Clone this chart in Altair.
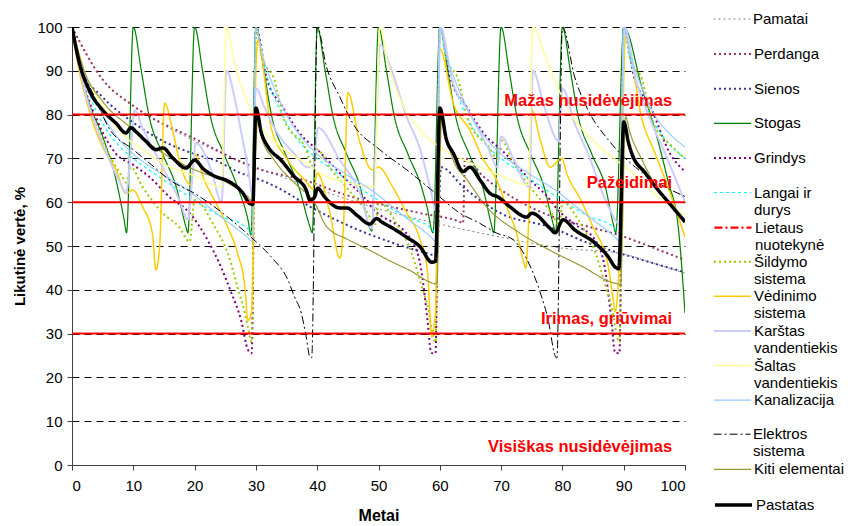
import altair as alt
import pandas as pd

# ---------------- data ----------------
series_names = [
    "Pamatai", "Perdanga", "Sienos", "Stogas", "Grindys",
    "Langai ir|durys", "Lietaus|nuotekynė", "Šildymo|sistema",
    "Vėdinimo|sistema", "Karštas|vandentiekis", "Šaltas|vandentiekis",
    "Kanalizacija", "Elektros|sistema", "Kiti elementai", "Pastatas",
]
series_colors = [
    "#808080", "#993366", "#333399", "#008000", "#800080",
    "#00FFFF", "#FF0000", "#99CC00", "#FFCC00", "#CCCCFF",
    "#FFFF99", "#99CCFF", "#000000", "#999933", "#000000",
]
series_dashes = [
    [2, 3], [2, 3], [2, 3], [1, 0], [2, 3],
    [3, 3], [8, 3, 2, 3], [2, 3], [1, 0], [1, 0],
    [1, 0], [1, 0], [8, 3, 2, 3], [1, 0], [1, 0],
]
series_widths = [1, 2, 2, 1.2, 2, 1.2, 2.2, 2, 1.5, 2, 1.5, 1.2, 1, 1.2, 3.5]

pamatai = [(0, 100), (5, 88), (10, 82), (20, 74), (30, 68), (40, 63), (50, 58.5), (60, 55),
           (70, 52), (80, 49.5), (89.2, 48.4), (95, 46), (100, 43.8)]

perdanga = [(0, 100), (5, 88), (10, 82), (20, 74.5), (30.6, 67.5), (38, 65), (45, 61.5), (52, 59),
            (56.8, 57.5), (63.3, 55.5), (63.8, 55.2), (64.1, 70), (67, 66), (72, 61), (78.8, 56.5),
            (84, 54.5), (89.2, 52.5), (95, 49.5), (100, 46.8)]

sienos = [(0, 100), (1.7, 90), (5, 84), (9.4, 78.8), (14.8, 74), (20, 71), (23.3, 69.6), (27.6, 66.6),
          (30, 65.5), (34, 63), (38.8, 59), (43, 56), (47, 53.5), (52.4, 50.7), (57.8, 48.4),
          (59.5, 47.8), (60.2, 68), (63.8, 63.5), (69.9, 57.5), (78, 54.3), (84.2, 50.7),
          (89, 48.5), (95, 46), (100, 44)]

stogas = [(0, 100), (1.3, 90), (2.8, 82.6), (5, 75), (7.2, 65), (8.5, 56), (8.9, 53),
          (10, 100), (11.3, 90), (12.6, 79.5), (14.8, 71), (17, 63.5), (18.6, 54.3), (18.9, 53),
          (20, 100), (21.3, 90), (22.6, 79.5), (24.8, 71), (27, 63.5), (28.7, 56), (29.2, 52.5),
          (30, 100), (31.3, 90), (32.6, 79.5), (34.8, 71), (37, 63.5), (38.8, 54.5), (39.2, 53),
          (40, 100), (41.3, 90), (42.6, 79.5), (44.8, 71), (47, 63.5), (48.6, 54), (48.9, 53.4),
          (50, 100), (51.3, 90), (52.6, 79.5), (54.8, 71), (57, 63.5), (57.9, 59), (58.9, 53),
          (60, 100), (61.3, 90), (62.6, 79.5), (64.8, 71), (67, 63.5), (68.4, 55), (68.8, 53),
          (70, 100), (71.3, 90), (72.6, 79.5), (74.8, 71), (77, 63.5), (78.5, 55), (78.9, 53),
          (80, 100), (81.3, 90), (82.6, 79.5), (84.8, 71), (87, 63.5), (88.3, 55), (88.7, 53),
          (90, 100), (93, 86), (95.1, 76.5), (97.2, 65), (98.9, 54.3), (100, 34.7)]

grindys = [(0, 100), (1.7, 88), (4, 79), (7.2, 71), (10, 68.5), (12.6, 65.8), (15.9, 61.2),
           (19.2, 57.5), (22.1, 51.4), (24.3, 45.2), (26, 39.3), (27.6, 33), (28.7, 26.3), (29.3, 25.5),
           (30, 100), (31.7, 88.6), (34.4, 81.7), (37.6, 75), (40, 72), (44.8, 65), (48, 60.5),
           (48.8, 59), (55.3, 51.4), (56.9, 45.2), (58, 33), (58.6, 25.6), (59.3, 25.5),
           (60, 100), (61.7, 88.6), (64.4, 81.7), (67.6, 75), (70, 72), (74.8, 65), (78, 60.5),
           (78.8, 59), (82, 55), (85.3, 51.4), (86.9, 45.2), (88, 33), (88.6, 25.6), (89.3, 25.5),
           (90, 100), (91.7, 88.6), (94.4, 81.7), (97.6, 71), (100, 67)]

langai = [(0, 100), (1, 93), (3, 84), (5, 78), (7.6, 73), (10, 70), (14, 66), (18.8, 61.5), (24, 57),
          (28.6, 54), (29.3, 53),
          (30, 100), (31, 93), (33, 84), (35, 78), (37.6, 73), (40, 70), (44, 66), (48.8, 61.5),
          (54, 57), (58.6, 54), (59.3, 53),
          (60, 100), (61, 93), (63, 84), (65, 78), (67.6, 73), (70, 70), (74, 66), (78.8, 61.5),
          (84, 57), (88.6, 54), (89.3, 53),
          (90, 100), (91, 93), (93, 84), (95, 78), (97.6, 73), (100, 70)]

kanalizacija = [(0, 100), (1, 94), (3, 86), (5, 80), (7.6, 74.5), (10, 71), (14, 67), (18.8, 62.8),
                (24, 57), (28.6, 52), (29.4, 51),
                (30, 100), (31, 94), (33, 86), (35, 80), (37.6, 74.5), (40, 71), (44, 67), (48.8, 62.8),
                (54, 57), (58.6, 52), (59.4, 51),
                (60, 100), (61, 94), (63, 86), (65, 80), (67.6, 74.5), (70, 71), (74, 67), (78.8, 62.8),
                (84, 57), (88.6, 52), (89.4, 51),
                (90, 100), (91, 94), (93, 86), (95, 80), (97.6, 75.5), (100, 72.6)]

# not visible in the picture: it runs hidden under the thick building line
lietaus = [(0, 100), (1.2, 91.8), (2.8, 85.6), (5, 81), (7.2, 78), (8.8, 75.8), (9.6, 77), (10.5, 76),
           (12, 74), (13.7, 72), (14.8, 72.4), (16.5, 70), (18.6, 67.8), (20, 69.6), (21.5, 67.5),
           (23.5, 65.8), (25.2, 65), (27.9, 62), (29, 59.7), (29.5, 59.5), (30, 81.5), (30.9, 75.8),
           (32, 72.6), (34.1, 69.6), (36.3, 65.8), (38.2, 62.8), (38.8, 60.5), (39.5, 61), (40.1, 63.2),
           (41.2, 61.2), (43.7, 58.7), (44.8, 58.7), (46.5, 57), (48.6, 55), (49.7, 56.3), (50.5, 55.5),
           (52.4, 54), (54.6, 52), (56.8, 49.8), (58.7, 46.3), (59.3, 46.5), (60, 81.5), (61.1, 74.2),
           (62.2, 71.2), (63.8, 67), (64.9, 68), (66.6, 65), (68.2, 62), (69.5, 61.2), (71.4, 59),
           (74.2, 56.6), (75, 57.5), (78, 54), (78.8, 53), (80.1, 56), (82, 53.7), (85.3, 50.7),
           (87.5, 47.5), (88.6, 45.2), (89.2, 44.8), (90, 78.3), (90.8, 73.5), (91.3, 71.2),
           (93.5, 66.7), (95.6, 62.8), (97.9, 59), (100, 55.5)]

sildymo = [(0, 100), (2, 86), (5, 74), (8.2, 65.8), (8.8, 64.5), (9.6, 68), (11.5, 63.5), (14.8, 57.5),
           (17.5, 54.3), (19.2, 51), (20, 60.5), (23.3, 54.3), (25.4, 48.4), (27, 40.6), (28.2, 34.7),
           (28.7, 31.5), (29.3, 28),
           (30, 100), (31, 93), (33, 88), (34.6, 78.8), (38, 72.6), (39.4, 68), (40, 72), (42, 68),
           (45, 63), (48, 58), (49.5, 55), (50, 60), (53, 55), (55.4, 48.4), (57, 41), (58.2, 35),
           (58.8, 30), (59.3, 28),
           (60, 100), (61, 93), (63, 88), (64.6, 78.8), (68, 72.6), (69.4, 70), (70, 74.2), (72, 69),
           (75, 63), (78, 58), (79.5, 55), (80, 60), (83, 55), (85.4, 48.4), (87, 41), (88.2, 35),
           (88.8, 30), (89.3, 28),
           (90, 100), (91, 93), (93, 88), (94.6, 78.8), (98, 72.6), (100, 70)]

vedinimo = [(0, 100), (0.3, 97), (2.8, 81), (5, 72.6), (7.2, 67.4), (8.8, 62), (9.9, 62.8), (11.5, 59),
            (13.1, 53), (13.7, 44.5), (14.3, 50), (15.1, 82.6), (16.4, 76.5), (17.5, 69.6), (18.6, 65),
            (19.4, 64), (20, 71), (21.6, 65), (23.8, 59), (25.4, 54.3), (27, 48.4), (28.2, 40.6),
            (28.7, 33), (29.3, 35),
            (30, 90), (30.3, 97), (32.5, 77), (35, 70), (38, 65), (39.4, 63), (40, 66.6), (42, 58),
            (43.7, 47.2), (44.3, 55), (45, 85), (46.9, 74), (49, 67.4), (50, 68), (52.3, 63.5),
            (54.6, 57.5), (56.8, 51.4), (58, 44), (58.7, 29.3), (59.3, 35),
            (60, 95), (62.2, 82.6), (64.9, 76.5), (67, 70), (69.3, 65), (70.9, 59), (72.5, 53),
            (73.6, 46.8), (74, 45), (74.6, 60), (75, 81), (76.4, 74.2), (78, 68), (79.9, 70),
            (80.7, 66.6), (83, 60.5), (85, 54.3), (87.5, 45.2), (88.3, 37.7), (88.6, 35), (89.4, 50),
            (90.3, 97.7), (93, 78.8), (95.1, 71.2), (97.2, 63.5), (100, 52)]

karstas = [(0, 100), (2, 86), (4, 77), (6, 70), (8.2, 63.5), (8.8, 62), (9.6, 72), (10.2, 81),
           (11.5, 77), (14.8, 68), (17.5, 60.5), (18.9, 56), (19.6, 65), (20.2, 73.5), (22.7, 67.4),
           (24.4, 60), (25.2, 90), (26.5, 84), (27.6, 76), (28.7, 68), (29.4, 62), (30, 86),
           (31.4, 81.7), (33, 77), (36.3, 71), (38.4, 68), (39.4, 68), (40.1, 77), (43.7, 69.6),
           (47, 62), (48.9, 54), (49.6, 75), (50.2, 96), (51.9, 91), (54.6, 79.5), (56.8, 72),
           (58.4, 63.5), (59.4, 58), (60.1, 100), (62, 88), (65, 80), (68, 72), (69.4, 68), (70, 75),
           (72, 70), (74.6, 63.5), (75.2, 90), (77, 82), (79.4, 74), (80, 86), (82, 78), (84.2, 71),
           (87.5, 59), (89.4, 55), (90.1, 100), (92, 88), (94, 80), (96.8, 71), (100, 60)]

saltas = [(0, 100), (2, 90), (5, 82), (8, 76), (12, 71.5), (16, 68), (20, 66), (24.4, 63.5),
          (25.2, 100), (26.5, 91.8), (28.7, 82.6), (30.9, 77), (34.1, 72.6), (38, 69), (41.3, 66),
          (45, 64.5), (49.4, 63.5),
          (50.2, 100), (51.5, 92), (53.7, 83), (56.8, 76.5), (60, 72.6), (65, 69), (70, 66),
          (74.4, 64),
          (75.2, 100), (77.4, 92.5), (81, 81), (84.9, 74.2), (88.8, 69.6), (92, 66), (95, 62),
          (100, 57)]

elektros = [(0, 100), (1.5, 91), (3.7, 84), (6, 77), (10, 72), (13, 68.5), (16, 65), (20, 62),
            (25.4, 56.6), (29.2, 52), (32.5, 47.5), (35.2, 42.3), (36.3, 38.4), (37.4, 34.7),
            (38.2, 29.3), (38.8, 24.7), (39.1, 24.5),
            (40, 100), (41.5, 91), (43.7, 84), (45.8, 78), (50.2, 72), (54.6, 67.4), (58.9, 62.5),
            (63.3, 57.5), (66.5, 55.2), (69.2, 53), (72, 51.4), (74.8, 45.2), (76.4, 39.3),
            (77.7, 33), (78.8, 25), (79.1, 24.4),
            (80, 100), (82, 88.6), (84.2, 81), (87.5, 74.2), (91.9, 68), (95.6, 64.4), (100, 61.3)]

kiti = [(0, 100), (2, 90), (5, 83), (9.4, 77.2), (14, 72), (20, 67.4), (25.4, 64.4), (28.7, 61.2),
        (29.5, 60), (30.3, 79), (30.9, 75), (33, 69.6), (36.3, 64.4), (39.6, 59.8), (41.5, 54.5),
        (45, 51.5), (48.6, 49), (52, 46.5), (55, 44.5), (58.9, 41.5), (59.5, 41.3), (60.3, 79),
        (61, 75), (62.2, 69.6), (64.5, 65), (67.6, 59), (73, 53), (78, 49), (83, 45.5), (88.6, 41.5),
        (89.5, 41.3), (90.3, 79.5), (91, 76), (93, 69.6), (96.8, 60.5), (100, 56)]

pastatas = [(0, 100), (1.2, 91.8), (2.8, 85.6), (5, 81), (7.2, 78), (8.8, 75.8), (9.6, 77), (10.5, 76),
            (12, 74), (13.7, 72), (14.8, 72.4), (16.5, 70), (18.6, 67.8), (20, 69.6), (21.5, 67.5),
            (23.5, 65.8), (25.2, 65), (27.9, 62), (29, 59.7), (29.5, 59.5), (30, 81.5), (30.9, 75.8),
            (32, 72.6), (34.1, 69.6), (36.3, 65.8), (38.2, 62.8), (38.8, 60.5), (39.5, 61), (40.1, 63.2),
            (41.2, 61.2), (43.7, 58.7), (44.8, 58.7), (46.5, 57), (48.6, 55), (49.7, 56.3), (50.5, 55.5),
            (52.4, 54), (54.6, 52), (56.8, 49.8), (58.7, 46.3), (59.3, 46.5), (60, 81.5), (61.1, 74.2),
            (62.2, 71.2), (63.8, 67), (64.9, 68), (66.6, 65), (68.2, 62), (69.5, 61.2), (71.4, 59),
            (74.2, 56.6), (75, 57.5), (78, 54), (78.8, 53), (80.1, 56), (82, 53.7), (85.3, 50.7),
            (87.5, 47.5), (88.6, 45.2), (89.2, 44.8), (90, 78.3), (90.8, 73.5), (91.3, 71.2),
            (93.5, 66.7), (95.6, 62.8), (97.9, 59), (100, 55.5)]

series_points = [pamatai, perdanga, sienos, stogas, grindys, langai, lietaus, sildymo,
                 vedinimo, karstas, saltas, kanalizacija, elektros, kiti, pastatas]

zone_levels = [80, 60, 30]
zone_texts = ["Mažas nusidėvėjimas", "Pažeidimai", "Irimas, griūvimai", "Visiškas nusidėvėjimas"]
zone_text_y = [83.1, 64.4, 33.3, 4.1]

axis_ticks = list(range(0, 101, 10))

FONT = "Liberation Sans"
LEGEND_STEP = 34.6

x_enc = alt.X("x:Q", scale=alt.Scale(domain=[0, 100], nice=False),
              axis=alt.Axis(title="Metai", values=axis_ticks, grid=False, tickSize=5,
                            labelFontSize=15, titleFontSize=16, titleFontWeight="bold",
                            labelPadding=8, titlePadding=14, domainColor="#404040",
                            tickColor="#404040", labelColor="black", titleColor="black"))
y_enc = alt.Y("y:Q", scale=alt.Scale(domain=[0, 100], nice=False),
              axis=alt.Axis(title="Likutinė vertė, %", values=axis_ticks, grid=True,
                            gridColor="black", gridDash=[7, 5], gridWidth=1, tickSize=5,
                            labelFontSize=15, titleFontSize=15, titleFontWeight="bold",
                            labelPadding=5, titlePadding=9, domainColor="#404040",
                            tickColor="#404040", labelColor="black", titleColor="black"))

layers = []
for i, (name, pts, col, dash, w) in enumerate(
        zip(series_names, series_points, series_colors, series_dashes, series_widths)):
    df = pd.DataFrame(pts, columns=["x", "y"])
    df["series"] = name
    leg = alt.Legend(title=None, orient="none", legendX=641, legendY=LEGEND_STEP * i - 27,
                     symbolType="stroke", symbolSize=1369, symbolStrokeColor=col,
                     symbolDash=dash, symbolStrokeWidth=w, symbolOpacity=1,
                     labelFontSize=15, labelFont=FONT, labelColor="black",
                     labelExpr="split(datum.label, '|')", labelLimit=300,
                     labelOffset=2, padding=0, labelBaseline="middle")
    layers.append(
        alt.Chart(df).mark_line(clip=True, interpolate="monotone", strokeDash=dash, strokeWidth=w).encode(
            x=x_enc if i == 0 else alt.X("x:Q"),
            y=y_enc if i == 0 else alt.Y("y:Q"),
            color=alt.Color("series:N", scale=alt.Scale(domain=[name], range=[col]), legend=leg),
        )
    )

rules_df = pd.DataFrame({"y": zone_levels, "x": [0] * len(zone_levels), "x2": [100] * len(zone_levels)})
text_df = pd.DataFrame({"text": zone_texts, "y": zone_text_y, "x": [97.9] * len(zone_texts)})

rules = alt.Chart(rules_df).mark_rule(color="#FF0000", strokeWidth=2).encode(
    x="x:Q", x2="x2:Q", y="y:Q")

texts = alt.Chart(text_df).mark_text(align="right", baseline="middle", color="#FF0000",
                                     fontSize=16.5, fontWeight="bold", font=FONT).encode(
    x="x:Q", y="y:Q", text="text:N")

chart = alt.layer(*layers, rules, texts).resolve_scale(color="independent").properties(
    width=613, height=438,
    padding={"left": 72, "top": 27, "right": 173, "bottom": 61},
    autosize=alt.AutoSizeParams(type="none"),
).configure(font=FONT, background="white").configure_view(stroke=None)

chart.save("out.html", embed_options={"renderer": "svg", "actions": False})
